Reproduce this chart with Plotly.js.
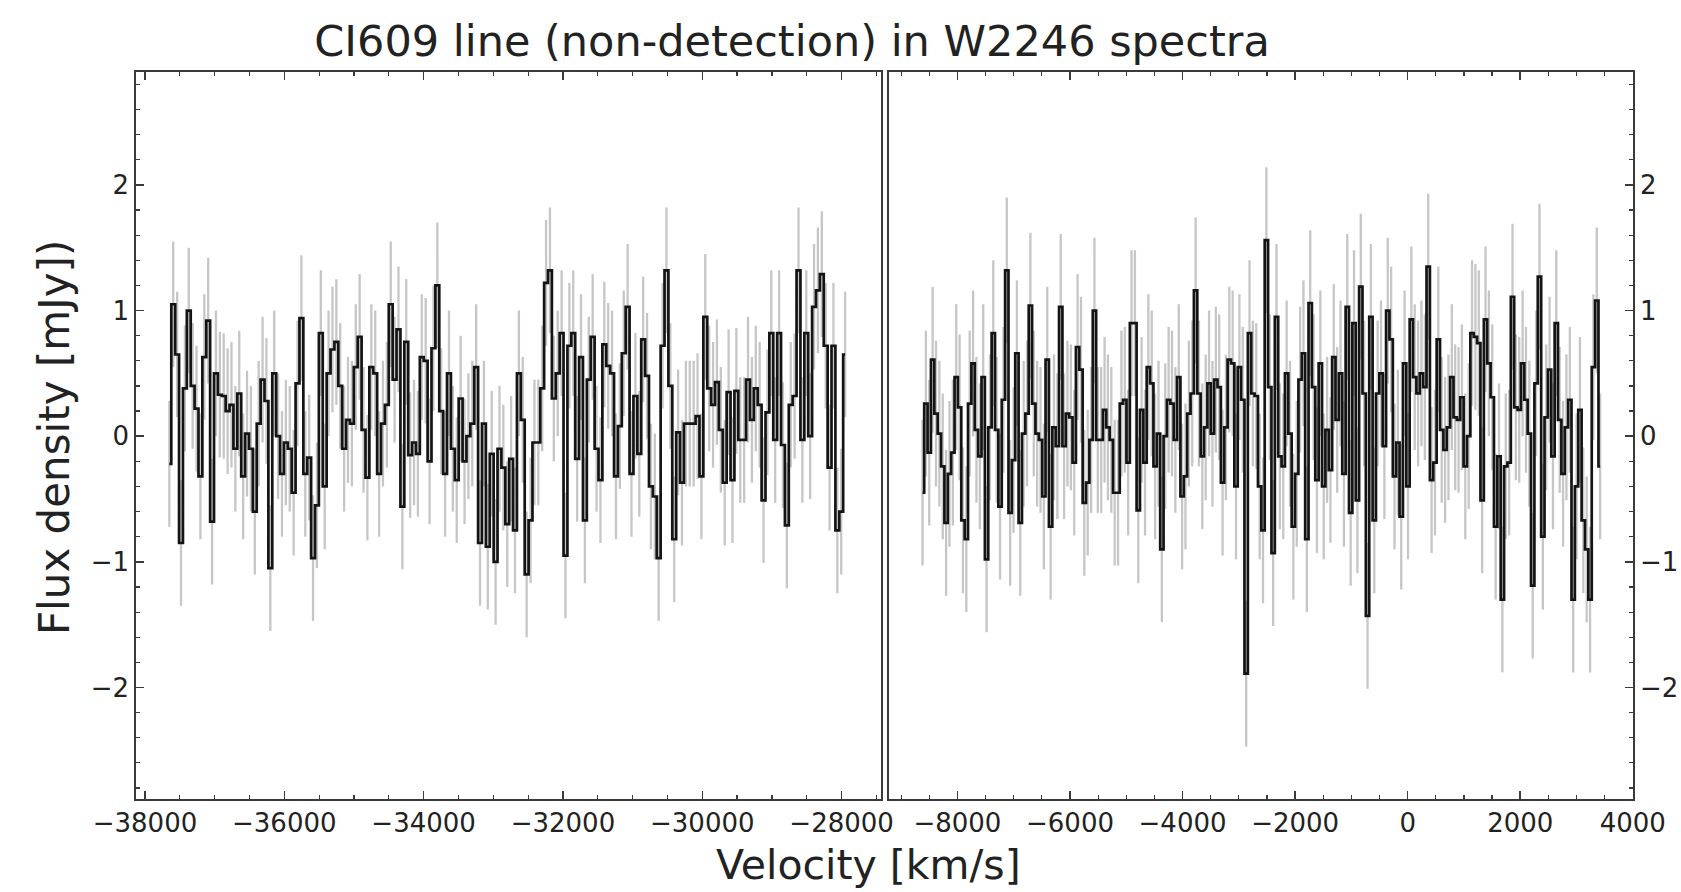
<!DOCTYPE html>
<html>
<head>
<meta charset="utf-8">
<script src="https://cdn.plot.ly/plotly-3.0.1.min.js"></script>
<style>
  html, body { margin: 0; padding: 0; background: #ffffff; }
  #chart { width: 1681px; height: 892px; }
</style>
</head>
<body>
<div id="chart"></div>
<script>
// ---------------- data ----------------
const chartTitle = "CI609 line (non-detection) in W2246 spectra";
const xTitle = "Velocity [km/s]";
const yTitle = "Flux density [mJy])";

// channel grids (first channel velocity and channel width, km/s)
const leftStartVel = -37650;
const leftChanWidth = 55.75;
const rightStartVel = -8620;
const rightChanWidth = 59.9;

// typical 1-sigma error per channel (mJy)
const leftErr = 0.5;
const rightErr = 0.58;

// left panel flux density per channel (mJy)
const leftFlux = [
  -0.22, 1.05, 0.65, -0.85, 0.38, 1.0, 0.4, 0.22, -0.32, 0.63,
  0.92, -0.68, 0.5, 0.33, 0.32, 0.2, 0.25, -0.1, 0.34, -0.32,
  0.02, -0.1, -0.6, 0.1, 0.45, 0.28, -1.05, 0.5, 0.0, -0.3,
  -0.05, -0.1, -0.45, 0.42, 0.94, -0.3, -0.17, -0.97, -0.55, 0.82,
  -0.4, 0.5, 0.69, 0.75, 0.4, -0.1, 0.13, 0.1, 0.55, 0.79,
  0.05, -0.33, 0.55, 0.5, -0.3, 0.1, 0.25, 1.05, 0.45, 0.85,
  -0.56, 0.75, -0.15, -0.05, -0.14, 0.63, 0.6, -0.2, 0.7, 1.2,
  0.2, -0.3, 0.5, -0.1, -0.35, 0.3, -0.2, 0.0, 0.1, 0.55, -0.85,
  0.1, -0.88, -0.14, -1.0, -0.1, -0.25, -0.7, -0.18, -0.75, 0.5,
  0.13, -1.1, -0.67, -0.05, -0.05, 0.38, 1.22, 1.32, 0.3, 0.5,
  0.82, -0.95, 0.72, 0.82, -0.18, 0.63, -0.67, 0.45, 0.79, -0.1,
  -0.35, 0.73, 0.56, 0.5, -0.32, 0.08, 0.66, 1.03, -0.3, 0.32,
  -0.14, 0.77, 0.48, -0.4, -0.48, -0.97, 0.72, 1.32, 0.4, -0.82,
  0.03, -0.37, 0.1, 0.1, 0.1, 0.16, -0.32, 0.95, 0.38, 0.25,
  0.43, 0.05, -0.37, 0.35, -0.35, 0.36, -0.03, -0.03, 0.45, 0.13,
  0.38, 0.25, -0.51, 0.19, 0.82, -0.03, 0.82, -0.07, -0.71, 0.25,
  0.32, 1.32, -0.03, 0.82, 0.0, 1.03, 1.16, 1.29, 0.72, -0.25,
  0.72, -0.75, -0.6, 0.65
];

// right panel flux density per channel (mJy)
const rightFlux = [
  -0.45, 0.26, -0.13, 0.61, 0.18, 0.02, -0.24, -0.69, -0.3, -0.13,
  0.47, 0.23, -0.67, -0.82, 0.26, 0.58, 0.05, -0.16, 0.47, -0.98,
  0.07, 0.82, 0.05, -0.56, 0.29, 1.32, -0.61, -0.19, 0.66, -0.69,
  0.02, 0.18, 1.04, 0.26, 0.02, -0.03, -0.48, 0.61, -0.72, 0.07,
  -0.08, 1.03, -0.08, 0.18, 0.15, -0.21, 0.71, 0.53, -0.53, -0.37,
  -0.03, 1.0, -0.03, -0.03, 0.21, 0.07, -0.03, -0.45, -0.45, 0.26,
  0.29, -0.21, 0.9, 0.9, -0.59, 0.21, -0.21, 0.55, 0.42, -0.24,
  0.02, -0.9, 0.0, 0.29, 0.26, -0.03, 0.47, -0.48, -0.32, 0.18,
  0.34, 1.16, 0.34, -0.16, 0.07, 0.42, 0.02, 0.45, 0.39, -0.37,
  0.07, 0.61, 0.58, -0.4, 0.55, 0.29, -1.89, 0.82, 0.34, 0.32,
  -0.4, -0.75,
  1.56, 0.39, -0.93, 0.95, -0.16, -0.24, 0.5, 0.02, -0.72, -0.3,
  0.45, 0.66, -0.82, 1.06, 0.39, -0.35, 0.58, -0.4, 0.05, -0.27,
  0.63, 0.13, 0.5, -0.3, 1.03, -0.61, 0.9, -0.51, 1.19, 0.34,
  -1.43, 0.95, -0.67, 0.34, 0.5, -0.08, 1.0, 0.77, -0.32, -0.05,
  -0.64, 0.58, -0.4, 0.93, 0.47, 0.34, 0.5, 0.39, 1.35, -0.35,
  -0.21, 0.77, 0.05, -0.11, 0.07, 0.47, 0.15, 0.13, 0.31, -0.24,
  0.0, 0.82, 0.79, 0.74, -0.51, 0.93, 0.58, 0.31, -0.72, -0.16,
  -1.3, -0.24, -0.21, 1.11, 0.23, 0.21, 0.58, 0.29, 0.02, -1.19,
  0.42, 1.27, -0.8, 0.15, 0.53, -0.16, 0.9, 0.13, -0.3, 0.07,
  0.29, -1.3, -0.4, 0.21, -0.67, -0.9, -1.3, 0.55, 1.08, -0.24
];

// tick settings
const leftTick0 = -38000;
const rightTick0 = -8000;
const xMajorStep = 2000;
const xMinorStep = 500;
const yMajorStep = 1;
const yMinorStep = 0.2;

// ---------------- build ----------------
const leftVel = leftFlux.map((_, i) => leftStartVel + i * leftChanWidth);
const rightVel = rightFlux.map((_, i) => rightStartVel + i * rightChanWidth);

const FONT = 'DejaVu Sans, Liberation Sans, sans-serif';
const TXT = '#222222';
const AX = '#3a3a3a';

function errTrace(x, y, err, xa, ya) {
  return {
    x: x, y: y, xaxis: xa, yaxis: ya, type: 'scatter', mode: 'lines',
    line: {color: 'rgba(0,0,0,0)', width: 0},
    error_y: {type: 'constant', value: err, color: '#c6c6c6', thickness: 2.3, width: 0},
    hoverinfo: 'skip', showlegend: false
  };
}
function stepTrace(x, y, xa, ya) {
  return {
    x: x, y: y, xaxis: xa, yaxis: ya, type: 'scatter', mode: 'lines',
    line: {color: '#141414', width: 2.7, shape: 'hvh'},
    showlegend: false
  };
}

const data = [
  errTrace(leftVel, leftFlux, leftErr, 'x', 'y'),
  stepTrace(leftVel, leftFlux, 'x', 'y'),
  errTrace(rightVel, rightFlux, rightErr, 'x2', 'y2'),
  stepTrace(rightVel, rightFlux, 'x2', 'y2')
];

function xAxis(domain, range, tick0, anchor) {
  return {
    domain: domain, range: range, anchor: anchor,
    tickmode: 'linear', tick0: tick0, dtick: xMajorStep,
    exponentformat: 'none', separatethousands: false, tickformat: 'd',
    ticks: 'inside', ticklen: 8, tickwidth: 1.5, tickcolor: AX,
    minor: {tickmode: 'linear', tick0: tick0, dtick: xMinorStep, ticks: 'inside', ticklen: 4, tickwidth: 1.2, tickcolor: AX, showgrid: false},
    showline: true, linecolor: AX, linewidth: 2, mirror: 'ticks',
    showgrid: false, zeroline: false,
    tickfont: {family: FONT, size: 26, color: TXT},
    fixedrange: true
  };
}
function yAxis(side, anchor) {
  return {
    domain: [0.1046, 0.9195], range: [-2.885, 2.9], anchor: anchor, side: side,
    tickmode: 'linear', tick0: 0, dtick: yMajorStep,
    ticks: 'inside', ticklen: 8, tickwidth: 1.5, tickcolor: AX,
    minor: {tickmode: 'linear', tick0: 0, dtick: yMinorStep, ticks: 'inside', ticklen: 4, tickwidth: 1.2, tickcolor: AX, showgrid: false},
    showline: true, linecolor: AX, linewidth: 2, mirror: true,
    showgrid: false, zeroline: false,
    tickfont: {family: FONT, size: 26, color: TXT},
    fixedrange: true
  };
}

const layout = {
  width: 1681, height: 892, autosize: false,
  margin: {l: 0, r: 0, t: 0, b: 0, pad: 0},
  paper_bgcolor: '#ffffff', plot_bgcolor: '#ffffff',
  showlegend: false,
  title: {
    text: chartTitle,
    font: {family: FONT, size: 43, color: TXT},
    x: 0.4712, xanchor: 'center', xref: 'container',
    y: 0.954, yanchor: 'middle', yref: 'container'
  },
  xaxis: xAxis([0.08102, 0.52427], [-38126, -27430], leftTick0, 'y'),
  yaxis: yAxis('left', 'x'),
  xaxis2: xAxis([0.52873, 0.97133], [-9219, 4000], rightTick0, 'y2'),
  yaxis2: yAxis('right', 'x2'),
  annotations: [
    {text: xTitle, xref: 'paper', yref: 'paper', x: 0.5164, y: 0.0303,
     xanchor: 'center', yanchor: 'middle', showarrow: false,
     font: {family: FONT, size: 41, color: TXT}},
    {text: yTitle, xref: 'paper', yref: 'paper', x: 0.0321, y: 0.510,
     xanchor: 'center', yanchor: 'middle', showarrow: false, textangle: -90,
     font: {family: FONT, size: 42, color: TXT}}
  ]
};

Plotly.newPlot('chart', data, layout, {staticPlot: true, displayModeBar: false});
</script>
</body>
</html>
